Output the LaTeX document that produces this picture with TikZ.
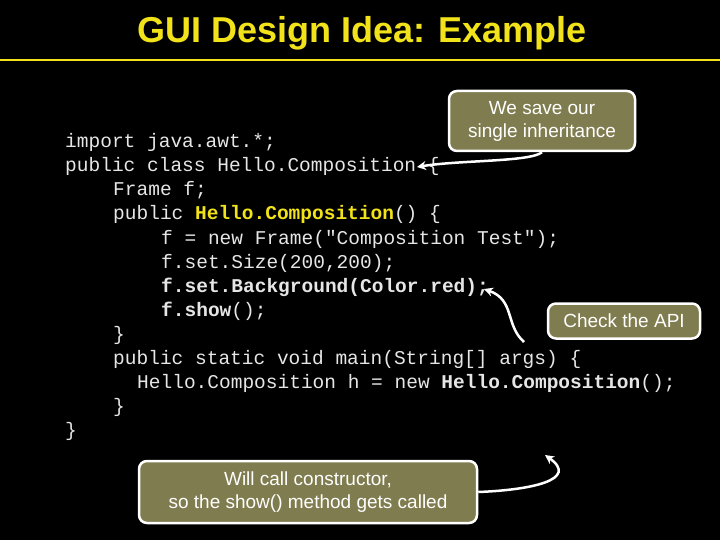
\documentclass[tikz,border=0pt]{standalone}
\usepackage{fontspec}
\setmainfont{Liberation Sans}
\setmonofont{Liberation Mono}
\usetikzlibrary{arrows.meta}
\definecolor{olive}{HTML}{7F7C4F}
\definecolor{ttl}{HTML}{F2E21A}
\definecolor{codec}{HTML}{E6E6E6}
\begin{document}
\begin{tikzpicture}[x=1pt,y=-1pt,
  code/.style={anchor=base west,inner sep=0,text=codec,font=\fontsize{19.5}{20}\ttfamily},
  callout/.style={draw=white,line width=2.5pt,fill=olive,rounded corners=8pt,text=white,align=center,font=\fontsize{19}{23}\selectfont,inner sep=0},
  arr/.style={draw=white,line width=2.5pt,-{Stealth[length=9pt,width=9pt]}}]
\fill[black] (0,0) rectangle (720,540);
\useasboundingbox (0,0) rectangle (720,540);
\node[text=ttl,font=\fontsize{36}{40}\selectfont\bfseries] (title) at (362,33) {GUI Design Idea: Example};
\draw[ttl,line width=2.5pt] (0,60) -- (720,60);
\node[code] (l1) at (65,148) {import java.awt.*;};
\node[code] (l2) at (65,172) {public class Hello.Composition \{};
\node[code] (l3) at (113,196) {Frame f;};
\node[code] (l4) at (113,220) {public \textcolor{ttl}{\bfseries Hello.Composition}() \{};
\node[code] (l5) at (161,244) {f = new Frame("Composition Test");};
\node[code] (l6) at (161,268) {f.set.Size(200,200);};
\node[code] (l7) at (161,292) {\bfseries f.set.Background(Color.red);};
\node[code] (l8) at (161,316) {{\bfseries f.show}();};
\node[code] (l9) at (113,340) {\}};
\node[code] (l10) at (113,364) {public static void main(String[] args) \{};
\node[code] (l11) at (137,388) {Hello.Composition h = new {\bfseries Hello.Composition}();};
\node[code] (l12) at (113,412) {\}};
\node[code] (l13) at (65,436) {\}};
\node[callout,minimum width=186pt,minimum height=60pt] (c1) at (542,121) {We save our\\single inheritance};
\node[callout,minimum width=152pt,minimum height=35pt] (c2) at (624,321) {Check the API};
\node[callout,minimum width=338pt,minimum height=62pt] (c3) at (308,492) {Will call constructor,\\so the show() method gets called};
\coordinate (t1) at (417,167);
\coordinate (t2) at (484,289);
\coordinate (t3) at (545,455);
\coordinate (s2) at (524,342);
\draw[arr] (c1.south) .. controls (530,162) and (460,160) .. (t1);
\draw[arr] (s2) .. controls (505,325) and (515,300) .. (t2);
\draw[arr] (c3.east) .. controls (530,490) and (580,480) .. (t3);
\end{tikzpicture}
\end{document}
